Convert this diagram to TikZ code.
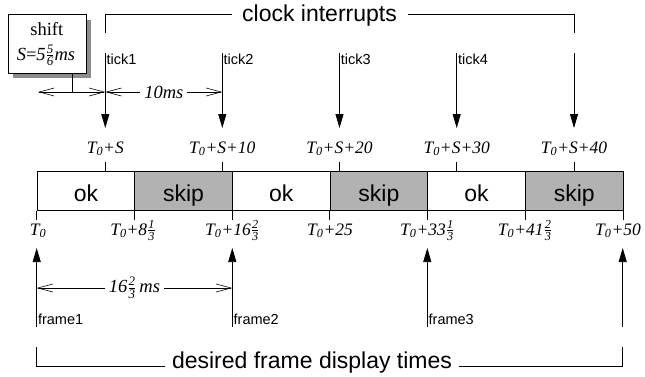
\documentclass[tikz,border=0pt]{standalone}
\usepackage{amsmath}
\usepackage{fontspec}
\setmainfont{Liberation Serif}
\setsansfont{Liberation Sans}
\usetikzlibrary{arrows.meta}
\newcommand\Tz{T\textsubscript{0}}
\newcommand\fr[2]{$\frac{\textit{#1}}{\textit{#2}}$}
\begin{document}
\begin{tikzpicture}[x=1pt,y=-1pt,line width=0.75pt,
  big/.style={font=\sffamily\fontsize{23}{26}\selectfont},
  small/.style={font=\sffamily\fontsize{14.5}{16}\selectfont,inner sep=1pt},
  tlab/.style={anchor=base,font=\itshape\fontsize{17.5}{20}\selectfont,inner sep=0pt},
  boxtxt/.style={anchor=base,font=\fontsize{18.5}{21}\selectfont,inner sep=0pt},
  tickar/.style={-{Triangle[length=14pt,width=8pt]}},
  barb/.tip={Straight Barb[length=15pt,width=8pt,line width=0.6pt]},
  dim/.style={barb-barb,line width=0.6pt},
  dimlab/.style={fill=white,inner xsep=4pt,inner ysep=1pt,font=\itshape\fontsize{18.5}{21}\selectfont},
  okseg/.style={draw,big,inner xsep=0pt,inner ysep=0pt,minimum width=97.67pt,text height=30pt,text depth=9pt},
  skipseg/.style={okseg,fill=black!30}
]
\useasboundingbox (0,0) rectangle (645,376);

% ---- the bar ----
\foreach \i/\t/\s in {1/ok/okseg,2/skip/skipseg,3/ok/okseg,4/skip/skipseg,5/ok/okseg,6/skip/skipseg}
  \node[\s,anchor=north west] (s\i) at ({36.7+(\i-1)*97.67},171) {\t};

% bottom tick marks
\foreach \i in {1,...,6} \draw (s\i.south west) -- ++(0,9);
\draw (s6.south east) -- ++(0,9);

% bottom labels
\node[tlab] (b0) at (38,235) {\Tz};
\node[tlab] (b1) at (133,235) {\Tz+8\fr13};
\node[tlab] (b2) at (232.3,235) {\Tz+16\fr23};
\node[tlab] (b3) at (330,235) {\Tz+25};
\node[tlab] (b4) at (427.3,235) {\Tz+33\fr13};
\node[tlab] (b5) at (525,235) {\Tz+41\fr23};
\node[tlab] (b6) at (618,235) {\Tz+50};

% top tick marks and labels
\foreach \i/\x/\l in {1/105.3/{\Tz+S},2/222.3/{\Tz+S+10},3/339.5/{\Tz+S+20},4/456.7/{\Tz+S+30},5/574/{\Tz+S+40}}{
  \coordinate (tm\i) at (\x,171);
  \draw (tm\i) -- ++(0,-9.3);
  \node[tlab] (tl\i) at (\x,153) {\l};
  \coordinate (ta\i) at (\x,53);
  \coordinate (tb\i) at (\x,128);
  \draw[tickar] (ta\i) -- (tb\i);
}
\foreach \i in {1,...,4} \node[small,anchor=north west] (tk\i) at (ta\i) {tick\i};

% clock interrupts bracket
\coordinate (cb1) at (105.3,33);
\coordinate (cl1) at (231.7,14.3);
\coordinate (cl2) at (408,14.3);
\coordinate (cb2) at (574,33);
\node[big,anchor=base,inner sep=0pt] (ci) at (319.5,21.7) {clock interrupts};
\draw (cb1) |- (cl1);
\draw (cl2) -| (cb2);

% shift box
\fill[black!45] (13,19.6) rectangle (91.3,78);
\node[draw,fill=white,inner sep=0pt,minimum width=78.3pt,minimum height=58.4pt,anchor=north west] (shiftbox) at (7.7,14.3) {};
\node[boxtxt] (sh1) at (46.8,35) {shift};
\node[boxtxt] (sh2) at (46,60) {\textit{S}=\textit{5}\fr56\textit{ms}};
\coordinate (sl) at (72,92);
\coordinate (sa) at (38,92);
\coordinate (sb) at (105.3,92);
\coordinate (sc) at (222.3,92);
\draw ([xshift=64.3pt]shiftbox.south west) -- (sl);
\draw[dim] (sa) -- (sb);
\draw[dim] (sb) -- (sc) node[midway,dimlab] (ten) {10ms};

% frame arrows
\foreach \i/\x in {1/36.7,2/232.3,3/427.3,4/622.7}{
  \coordinate (fa\i) at (\x,327);
  \coordinate (fb\i) at (\x,248);
  \draw[tickar] (fa\i) -- (fb\i);
}
\foreach \i in {1,2,3} \node[small,anchor=south west] (fr\i) at ([yshift=1pt]fa\i) {frame\i};

% 16 2/3 ms
\coordinate (da) at (36.7,288);
\coordinate (db) at (232.3,288);
\draw[dim] (da) -- (db) node[midway,dimlab] (sixteen) {16\fr23\,ms};

% desired bracket
\coordinate (db1) at (36.7,347);
\coordinate (dl1) at (165,366.7);
\coordinate (dl2) at (459,366.7);
\coordinate (db2) at (622.7,347);
\node[big,anchor=base,inner sep=0pt] (dd) at (312,368) {desired frame display times};
\draw (db1) |- (dl1);
\draw (dl2) -| (db2);
\end{tikzpicture}
\end{document}
